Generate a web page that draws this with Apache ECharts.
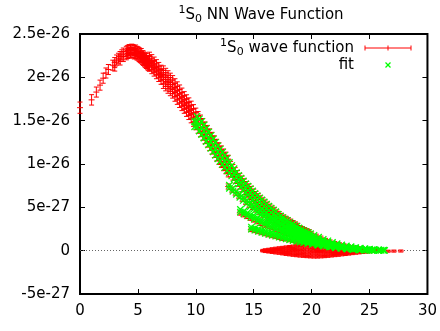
<!DOCTYPE html>
<html><head><meta charset="utf-8">
<script src="https://cdn.jsdelivr.net/npm/echarts@6/dist/echarts.min.js"></script>
<style>html,body{margin:0;padding:0;background:#fff}#c{width:440px;height:331px}</style>
</head><body><div id="c"></div>
<script>
// ---- data (psi values in units of 1e-27) ----
const xTicks = [0, 5, 10, 15, 20, 25, 30];
const yTickLabels = ['-5e-27', '0', '5e-27', '1e-26', '1.5e-26', '2e-26', '2.5e-26'];
const yMin = -5, yMax = 25, yStep = 5;

// lattice data near the origin: [r, psi, err]
const redCore = [
  [0,16.5,.65],[1,17.4,.6],[1.41,18.3,.58],[1.73,19.1,.58],[2,19.9,.58],[2.24,20.5,.58],[2.45,20.9,.58],
  [2.83,21.4,.58],[3,21.7,.58],[3,21.3,.58],[3.16,22.0,.58],[3.32,22.2,.58],[3.46,22.4,.58],[3.46,22.0,.58],
  [3.61,22.6,.58],[3.74,22.8,.58],[3.74,22.4,.58],[4,23.0,.58],[4,22.6,.58],[4.12,23.1,.58],[4.12,22.75,.58],
  [4.24,23.2,.58],[4.24,22.85,.58],[4.36,23.15,.58],[4.36,22.8,.58],[4.47,23.25,.58],[4.47,22.9,.58],
  [4.58,23.2,.58],[4.58,22.85,.58],[4.69,23.1,.58],[4.69,22.7,.58],[4.8,23.15,.58],[4.8,22.75,.58],
  [4.9,23.0,.58],[4.9,22.6,.58],[5,22.95,.58],[5,22.55,.58],[5.1,22.85,.58],[5.1,22.4,.58],[5.2,22.7,.58],
  [5.2,22.3,.58],[5.29,22.75,.58],[5.29,22.2,.58],[5.39,22.5,.58],[5.39,22.05,.58],[5.48,22.45,.58],
  [5.48,21.95,.58],[5.57,22.3,.58],[5.57,21.8,.58],[5.66,22.2,.58],[5.66,21.7,.58],[5.74,22.15,.58],
  [5.74,21.6,.58],[5.83,21.95,.58],[5.83,21.45,.58],[5.92,21.9,.58],[5.92,21.35,.58]
];
// lattice data, main band: [r, err, psi values at this r ...]
const redMainRows = [
  [6.0,.5,22.4,22.0,21.6,21.2],[6.2,.5,22.12,21.72,21.32,20.92],[6.4,.5,21.84,21.44,21.04,20.64],
  [6.6,.5,21.54,21.14,20.74,20.34],[6.8,.5,21.22,20.82,20.42,20.02],[7.0,.5,20.9,20.5,20.1,19.7],
  [7.2,.5,20.82,20.29,19.75,19.22],[7.4,.5,20.54,20.01,19.47,18.94],[7.6,.5,20.26,19.73,19.19,18.66],
  [7.8,.5,19.98,19.45,18.91,18.38],[8.0,.5,19.7,19.17,18.63,18.1],[8.2,.5,19.34,18.81,18.27,17.74],
  [8.4,.5,18.98,18.45,17.91,17.38],[8.6,.5,18.62,18.09,17.55,17.02],[8.8,.5,18.26,17.73,17.19,16.66],
  [9.0,.45,17.9,17.37,16.83,16.3],[9.2,.45,17.54,17.01,16.47,15.94],[9.4,.45,17.18,16.65,16.11,15.58],
  [9.6,.45,16.8,16.27,15.73,15.2],[9.8,.45,16.4,15.87,15.33,14.8],[10.0,.45,16.0,15.47,14.93,14.4],
  [10.2,.45,15.6,15.07,14.53,14.0],[10.4,.45,15.2,14.67,14.13,13.6],[10.6,.45,14.8,14.27,13.73,13.2],
  [10.8,.45,14.4,13.87,13.33,12.8],[11.0,.45,14.0,13.47,12.93,12.4],[11.2,.45,13.6,13.07,12.53,12.0],
  [11.4,.45,13.2,12.67,12.13,11.6],[11.6,.45,12.8,12.27,11.73,11.2],[11.8,.45,12.4,11.87,11.33,10.8],
  [12.0,.45,12.0,11.47,10.93,10.4],[12.2,.45,11.64,11.11,10.57,10.04],[12.4,.45,11.28,10.75,10.21,9.68],
  [12.6,.45,10.92,10.39,9.85,9.32],[12.8,.45,10.56,10.03,9.49,8.96],[13.0,.4,9.9,9.57,9.23,8.9],
  [13.2,.4,9.54,9.21,8.87,8.54],[13.4,.4,9.18,8.85,8.51,8.18],[13.6,.4,8.84,8.51,8.17,7.84],
  [13.8,.4,8.52,8.19,7.85,7.52],[14.0,.4,8.2,7.87,7.53,7.2],[14.2,.4,7.88,7.55,7.21,6.88],
  [14.4,.4,7.58,7.25,6.91,6.58],[14.6,.4,7.3,6.97,6.63,6.3],[14.8,.4,7.02,6.69,6.35,6.02],
  [15.0,.35,6.75,6.42,6.08,5.75],[15.2,.35,6.47,6.14,5.8,5.47],[15.4,.35,6.22,5.89,5.55,5.22],
  [15.6,.35,5.98,5.65,5.31,4.98],[15.8,.35,5.74,5.41,5.07,4.74],[16.0,.35,5.5,5.17,4.83,4.5],
  [16.2,.35,5.26,4.93,4.59,4.26],[16.4,.35,5.02,4.69,4.35,4.02],[16.6,.35,4.8,4.47,4.13,3.8],
  [16.8,.35,4.6,4.27,3.93,3.6],[17.0,.3,4.4,4.07,3.73,3.4],[17.2,.3,4.2,3.87,3.53,3.2],
  [17.4,.3,4.0,3.67,3.33,3.0],[17.6,.3,3.82,3.49,3.15,2.82],[17.8,.3,3.66,3.33,2.99,2.66],
  [18.0,.3,3.5,3.17,2.83,2.5],[18.2,.3,3.34,3.01,2.67,2.34],[18.4,.3,3.18,2.85,2.51,2.18],
  [18.6,.3,3.02,2.69,2.35,2.02],[18.8,.3,2.86,2.53,2.19,1.86],[19.0,.25,2.65,2.35,2.05,1.75],
  [19.2,.25,2.53,2.23,1.93,1.63],[19.4,.25,2.41,2.11,1.81,1.51],[19.6,.25,2.29,1.99,1.69,1.39],
  [19.8,.25,2.17,1.87,1.57,1.27],[20.0,.2,1.95,1.6,1.25],[20.4,.2,1.7,1.4,1.1],
  [20.8,.2,1.48,1.2,0.92],[21.2,.15,1.27,1.02,0.77],[21.6,.15,1.08,0.86,0.64],[22.0,.15,0.9,0.7,0.5],
  [22.4,.15,0.76,0.58,0.4],[22.8,.15,0.63,0.47,0.31],[23.2,.12,0.52,0.38,0.24],[23.6,.12,0.42,0.3,0.18],
  [24.0,.12,0.34,0.24,0.14],[24.4,.12,0.26,0.18,0.1],[24.8,.12,0.21,0.14,0.07],[25.2,.12,0.16,0.1,0.04],
  [25.6,.12,0.12,0.07,0.02],[26.0,.12,0.09,0.05,0.01]
];
// lattice data, side branches: [r, psi, err]
const redBranchA = [
  [12.8,7.4,.3],[13.1,7.05,.3],[13.4,6.7,.3],[13.7,6.35,.3],[14.0,6.0,.3],[14.3,5.65,.3],[14.6,5.3,.3],
  [14.9,5.0,.25],[15.2,4.7,.25],[15.5,4.4,.25],[15.8,4.1,.25],[16.1,3.8,.25],[16.4,3.5,.25],[16.7,3.25,.25],
  [17.0,3.0,.2],[17.3,2.75,.2],[17.6,2.5,.2],[17.9,2.3,.2],[18.2,2.1,.2],[18.5,1.9,.2],[18.8,1.7,.2],
  [19.1,1.5,.2],[19.4,1.35,.2],[19.7,1.2,.2],[20.0,1.05,.15],[20.4,0.9,.15],[20.8,0.75,.15],[21.2,0.62,.15],
  [21.6,0.5,.15],[22.0,0.4,.12],[22.5,0.3,.12],[23.0,0.22,.12],[23.5,0.15,.12],[24.0,0.1,.1]
];
const redBranchB = [
  [13.8,4.35,.25],[14.1,4.15,.25],[14.4,3.95,.25],[14.7,3.75,.25],[15.0,3.55,.25],[15.3,3.35,.25],
  [15.6,3.15,.25],[15.9,2.95,.25],[16.2,2.8,.2],[16.5,2.6,.2],[16.8,2.45,.2],[17.1,2.25,.2],[17.4,2.1,.2],
  [17.7,1.95,.2],[18.0,1.8,.2],[18.3,1.65,.2],[18.6,1.5,.2],[18.9,1.35,.2],[19.2,1.2,.15],[19.5,1.08,.15],
  [19.8,0.96,.15],[20.2,0.82,.15],[20.6,0.7,.15],[21.0,0.58,.15],[21.5,0.45,.12],[22.0,0.34,.12],
  [22.5,0.26,.12],[23.0,0.19,.1],[23.5,0.12,.1],[24.0,0.07,.1]
];
const redBranchC = [
  [14.75,2.4,.2],[15.05,2.28,.2],[15.35,2.16,.2],[15.65,2.04,.2],[15.95,1.92,.2],[16.25,1.8,.2],
  [16.55,1.7,.2],[16.85,1.59,.2],[17.15,1.48,.2],[17.45,1.38,.2],[17.75,1.28,.15],[18.05,1.18,.15],
  [18.35,1.09,.15],[18.65,1.0,.15],[18.95,0.91,.15],[19.25,0.83,.15],[19.6,0.74,.15],[20.0,0.65,.15],
  [20.5,0.54,.12],[21.0,0.44,.12],[21.5,0.36,.12],[22.0,0.28,.12],[22.5,0.21,.1],[23.0,0.15,.1]
];
// lowest branch (near zero): [r, err, psi values ...]
const redBranchDRows = [
  [15.8,.1,0.05,-0.05],[16.0,.12,0.1,0.0,-0.1],[16.3,.12,0.16,0.05,-0.05,-0.15],[16.6,.12,0.22,0.08,-0.06,-0.2],
  [16.9,.12,0.28,0.12,-0.04,-0.26],[17.2,.12,0.33,0.14,-0.05,-0.3],[17.5,.12,0.38,0.17,-0.05,-0.25,-0.37],
  [17.8,.12,0.43,0.2,-0.03,-0.23,-0.43],[18.1,.12,0.48,0.23,-0.02,-0.25,-0.48],[18.4,.12,0.53,0.25,0.0,-0.27,-0.53],
  [18.7,.12,0.57,0.28,0.0,-0.3,-0.58],[19.0,.12,0.6,0.3,0.0,-0.31,-0.62],[19.3,.12,0.62,0.3,-0.02,-0.35,-0.65],
  [19.6,.12,0.62,0.3,-0.04,-0.37,-0.69],[19.9,.12,0.61,0.28,-0.06,-0.38,-0.71],[20.2,.12,0.59,0.26,-0.08,-0.4,-0.73],
  [20.5,.12,0.56,0.24,-0.1,-0.41,-0.73],[20.8,.12,0.53,0.21,-0.1,-0.4,-0.71],[21.1,.12,0.49,0.18,-0.12,-0.4,-0.69],
  [21.4,.12,0.45,0.16,-0.12,-0.38,-0.65],[21.7,.12,0.41,0.14,-0.12,-0.36,-0.61],[22.0,.12,0.37,0.12,-0.12,-0.34,-0.57],
  [22.3,.12,0.33,0.1,-0.12,-0.32,-0.53],[22.6,.12,0.29,0.08,-0.12,-0.3,-0.48],[22.9,.12,0.26,0.06,-0.12,-0.27,-0.44],
  [23.2,.12,0.23,0.05,-0.12,-0.25,-0.39],[23.5,.12,0.2,0.04,-0.11,-0.34],[23.8,.12,0.18,0.03,-0.1,-0.29],
  [24.1,.12,0.15,0.02,-0.09,-0.25],[24.4,.12,0.13,0.01,-0.08,-0.21],[24.7,.12,0.11,0.0,-0.07,-0.17],
  [25.0,.12,0.09,-0.05,-0.13]
];
const redTail = [
  [22.8,-0.12,.12],[23.6,-0.12,.12],[24.3,-0.12,.12],[24.9,-0.1,.12],[25.4,-0.1,.12],
  [26.0,-0.08,.12],[26.6,-0.06,.12],[27.1,-0.05,.12],[27.7,-0.04,.12]
];

// fit: [r, psi values at this r ...]
const fitMainRows = [
  [9.9,14.9,14.3],[10.1,15.5,14.9,14.3],[10.3,15.2,14.5,13.8],[10.5,14.9,14.2,13.4],[10.7,14.5,13.8,13.0],
  [10.9,14.1,13.4,12.6],[11.1,13.7,13.0,12.2],[11.3,13.3,12.6,11.8],[11.5,12.9,12.2,11.4],[11.7,12.5,11.8,11.0],
  [11.9,12.1,11.4,10.6],[12.1,11.72,11.02,10.32],[12.3,11.36,10.66,9.96],[12.5,11.0,10.3,9.6],[12.7,10.64,9.94,9.24],
  [12.9,10.18,9.58,8.98],[13.1,9.82,9.22,8.62],[13.3,9.46,8.86,8.26],[13.5,9.01,8.51,8.01],[13.7,8.68,8.18,7.68],
  [13.9,8.36,7.86,7.36],[14.1,8.04,7.54,7.04],[14.3,7.73,7.23,6.73],[14.5,7.44,6.94,6.44],[14.7,7.16,6.66,6.16],
  [14.9,6.89,6.39,5.89],[15.1,6.61,6.11,5.61],[15.3,6.35,5.85,5.35],[15.5,6.1,5.6,5.1],[15.7,5.86,5.36,4.86],
  [15.9,5.62,5.12,4.62],[16.1,5.38,4.88,4.38],[16.3,5.14,4.64,4.14],[16.5,4.91,4.41,3.91],[16.7,4.7,4.2,3.7],
  [16.9,4.5,4.0,3.5],[17.1,4.2,3.8,3.4],[17.3,4.0,3.6,3.2],[17.5,3.81,3.41,3.01],[17.7,3.64,3.24,2.84],
  [17.9,3.48,3.08,2.68],[18.1,3.27,2.92,2.57],[18.3,3.11,2.76,2.41],[18.5,2.95,2.6,2.25],[18.7,2.79,2.44,2.09],
  [18.9,2.63,2.28,1.93],[19.1,2.44,2.14,1.84],[19.3,2.32,2.02,1.72],[19.5,2.2,1.9,1.6],[19.7,2.08,1.78,1.48],
  [19.9,1.96,1.66,1.36],[20.2,1.75,1.5,1.25],[20.6,1.55,1.3,1.05],[21.0,1.31,1.11,0.91],[21.4,1.14,0.94,0.74],
  [21.8,0.96,0.78,0.6],[22.2,0.8,0.64,0.48],[22.6,0.66,0.52,0.38],[23.0,0.55,0.42,0.3],[23.4,0.45,0.34,0.23],
  [23.8,0.36,0.27,0.18],[24.2,0.29,0.21,0.13],[24.6,0.22,0.16,0.1],[25.0,0.17,0.12,0.07],[25.4,0.13,0.09,0.05],
  [25.8,0.1,0.06,0.03],[26.2,0.07,0.04]
];
const fitBranchARows = [
  [12.9,7.55,7.2],[13.2,7.2,6.85],[13.5,6.85,6.5],[13.8,6.5,6.15],[14.1,6.15,5.8],[14.4,5.8,5.45],[14.7,5.45,5.1],
  [15.0,5.15,4.8],[15.3,4.85,4.5],[15.6,4.55,4.2],[15.9,4.25,3.9],[16.2,3.95,3.6],[16.5,3.7,3.35],[16.8,3.45,3.1],
  [17.1,3.2,2.85],[17.4,2.95,2.6],[17.7,2.7,2.35],[18.0,2.5,2.15],[18.3,2.3,1.95],[18.6,2.1,1.75],[18.9,1.92,1.57],
  [19.2,1.75,1.4],[19.5,1.6,1.25],[19.8,1.45,1.1],[20.1,1.3,0.95],[20.5,1.12,0.8],[20.9,0.95,0.67],[21.3,0.8,0.55],
  [21.7,0.67,0.45],[22.1,0.56,0.36],[22.6,0.44,0.28],[23.1,0.33,0.2],[23.6,0.24,0.14],[24.1,0.17,0.1]
];
const fitBranchBRows = [
  [13.85,4.75,4.45],[14.15,4.55,4.25],[14.45,4.35,4.05],[14.75,4.15,3.85],[15.05,3.95,3.65],[15.35,3.75,3.45],
  [15.65,3.55,3.25],[15.95,3.35,3.05],[16.25,3.18,2.88],[16.55,3.0,2.7],[16.85,2.83,2.53],[17.15,2.65,2.35],
  [17.45,2.48,2.18],[17.75,2.32,2.02],[18.05,2.17,1.87],[18.35,2.02,1.72],[18.65,1.87,1.57],[18.95,1.72,1.42],
  [19.25,1.57,1.27],[19.55,1.43,1.13],[19.85,1.3,1.0],[20.25,1.14,0.86],[20.65,0.99,0.73],[21.05,0.85,0.61],
  [21.55,0.7,0.5],[22.05,0.56,0.38],[22.55,0.45,0.29],[23.05,0.34,0.22],[23.55,0.25,0.15],[24.05,0.18,0.1],
  [24.6,0.12,0.06],[25.2,0.08,0.04],[25.8,0.05],[26.3,0.03]
];
const fitBranchCRows = [
  [14.8,2.72,2.48],[15.1,2.6,2.36],[15.4,2.48,2.24],[15.7,2.36,2.12],[16.0,2.24,2.0],[16.3,2.12,1.88],
  [16.6,2.02,1.78],[16.9,1.91,1.67],[17.2,1.8,1.56],[17.5,1.7,1.46],[17.8,1.6,1.36],[18.1,1.5,1.26],
  [18.4,1.41,1.17],[18.7,1.32,1.08],[19.0,1.22,1.0],[19.3,1.13,0.91],[19.65,1.04,0.82],[20.05,0.94,0.72],
  [20.55,0.82,0.62],[21.05,0.7,0.52],[21.55,0.6,0.42],[22.05,0.5,0.34],[22.55,0.41,0.27],[23.05,0.33,0.21],
  [23.6,0.25,0.15],[24.2,0.18,0.1],[24.8,0.13,0.07],[25.4,0.09],[26.0,0.05]
];

// ---- build point tables from the rows ----
function expandErrRows(rows) {            // [r, err, v1, v2, ...] -> [r, v, err]
  const out = [];
  rows.forEach(row => { for (let i = 2; i < row.length; i++) out.push([row[0], row[i], row[1]]); });
  return out;
}
function expandRows(rows) {               // [r, v1, v2, ...] -> [r, v]
  const out = [];
  rows.forEach(row => { for (let i = 1; i < row.length; i++) out.push([row[0], row[i]]); });
  return out;
}
const redData = [].concat(redCore, expandErrRows(redMainRows), redBranchA, redBranchB, redBranchC,
                          expandErrRows(redBranchDRows), redTail);
const fitData = [].concat(expandRows(fitMainRows), expandRows(fitBranchARows),
                          expandRows(fitBranchBRows), expandRows(fitBranchCRows));

// ---- chart ----
const FONT = 'DejaVu Sans';
const RED = '#ff0000', GREEN = '#00ff00';
const chart = echarts.init(document.getElementById('c'), null, {renderer: 'canvas'});

function renderErr(params, api) {
  const r = api.value(0), v = api.value(1), e = api.value(2);
  const p = api.coord([r, v]);
  const t = api.coord([r, v + e]);
  const b = api.coord([r, v - e]);
  const cap = 2.5, s = 3;
  const st = {stroke: RED, lineWidth: 1};
  return {type: 'group', children: [
    {type: 'line', shape: {x1: p[0], y1: t[1], x2: p[0], y2: b[1]}, style: st},
    {type: 'line', shape: {x1: p[0] - cap, y1: t[1], x2: p[0] + cap, y2: t[1]}, style: st},
    {type: 'line', shape: {x1: p[0] - cap, y1: b[1], x2: p[0] + cap, y2: b[1]}, style: st},
    {type: 'line', shape: {x1: p[0] - s, y1: p[1], x2: p[0] + s, y2: p[1]}, style: st}
  ]};
}
function renderX(params, api) {
  const p = api.coord([api.value(0), api.value(1)]);
  const s = 3.2;
  const st = {stroke: GREEN, lineWidth: 1.3};
  return {type: 'group', children: [
    {type: 'line', shape: {x1: p[0] - s, y1: p[1] - s, x2: p[0] + s, y2: p[1] + s}, style: st},
    {type: 'line', shape: {x1: p[0] - s, y1: p[1] + s, x2: p[0] + s, y2: p[1] - s}, style: st}
  ]};
}

const supRich = {
  sup: {fontSize: 11, lineHeight: 11, verticalAlign: 'top', fontFamily: FONT, color: '#000'},
  sub: {fontSize: 11, lineHeight: 11, verticalAlign: 'bottom', fontFamily: FONT, color: '#000'}
};
const yLabel = v => yTickLabels[Math.round((v - yMin) / yStep)];
const tickStyle = {inside: true, length: 5, lineStyle: {color: '#000', width: 1}};

chart.setOption({
  animation: false,
  backgroundColor: '#fff',
  title: {
    text: '{sup|1}S{sub|0} NN Wave Function',
    left: 256, top: 0, textAlign: 'center',
    textStyle: {fontFamily: FONT, fontSize: 15, fontWeight: 'normal', color: '#000', lineHeight: 20, rich: supRich}
  },
  grid: {left: 80, right: 8, top: 34, bottom: 37, show: true, borderColor: '#000', borderWidth: 2, backgroundColor: 'transparent'},
  xAxis: [
    {type: 'value', min: xTicks[0], max: xTicks[xTicks.length - 1], interval: 5, position: 'bottom',
     axisLine: {show: false, onZero: false}, splitLine: {show: false}, axisTick: tickStyle,
     axisLabel: {margin: 10, fontFamily: FONT, fontSize: 15, color: '#000', showMaxLabel: true, showMinLabel: true}},
    {type: 'value', min: xTicks[0], max: xTicks[xTicks.length - 1], interval: 5, position: 'top',
     axisLine: {show: false, onZero: false}, splitLine: {show: false}, axisTick: tickStyle,
     axisLabel: {show: false}}
  ],
  yAxis: [
    {type: 'value', min: yMin, max: yMax, interval: yStep, position: 'left',
     axisLine: {show: false, onZero: false}, splitLine: {show: false}, axisTick: tickStyle,
     axisLabel: {margin: 10, fontFamily: FONT, fontSize: 15, color: '#000', formatter: yLabel}},
    {type: 'value', min: yMin, max: yMax, interval: yStep, position: 'right',
     axisLine: {show: false, onZero: false}, splitLine: {show: false}, axisTick: tickStyle,
     axisLabel: {show: false}}
  ],
  graphic: [
    {type: 'text', x: 354, y: 48, z: 100,
     style: {text: '{sup|1}S{sub|0} wave function', rich: supRich, fontFamily: FONT, fontSize: 15, fill: '#000',
             lineHeight: 20, align: 'right', verticalAlign: 'middle', textAlign: 'right', textVerticalAlign: 'middle'}},
    {type: 'line', z: 100, shape: {x1: 365, y1: 48, x2: 411, y2: 48}, style: {stroke: RED, lineWidth: 1}},
    {type: 'line', z: 100, shape: {x1: 365, y1: 45.5, x2: 365, y2: 50.5}, style: {stroke: RED, lineWidth: 1}},
    {type: 'line', z: 100, shape: {x1: 411, y1: 45.5, x2: 411, y2: 50.5}, style: {stroke: RED, lineWidth: 1}},
    {type: 'line', z: 100, shape: {x1: 388, y1: 45.5, x2: 388, y2: 50.5}, style: {stroke: RED, lineWidth: 1}},
    {type: 'text', x: 354, y: 65, z: 100,
     style: {text: 'fit', fontFamily: FONT, fontSize: 15, fill: '#000',
             align: 'right', verticalAlign: 'middle', textAlign: 'right', textVerticalAlign: 'middle'}},
    {type: 'line', z: 100, shape: {x1: 385.5, y1: 62.5, x2: 390.5, y2: 67.5}, style: {stroke: GREEN, lineWidth: 1.3}},
    {type: 'line', z: 100, shape: {x1: 385.5, y1: 67.5, x2: 390.5, y2: 62.5}, style: {stroke: GREEN, lineWidth: 1.3}}
  ],
  series: [
    {name: '1S0 wave function', type: 'custom', renderItem: renderErr, data: redData,
     encode: {x: 0, y: 1}, z: 2, clip: false,
     markLine: {silent: true, symbol: 'none', label: {show: false}, z: 1,
                lineStyle: {color: '#666', width: 1, type: [1, 2]}, data: [{yAxis: 0}]}},
    {name: 'fit', type: 'custom', renderItem: renderX, data: fitData, encode: {x: 0, y: 1}, z: 3, clip: false}
  ]
});
</script>
</body></html>
